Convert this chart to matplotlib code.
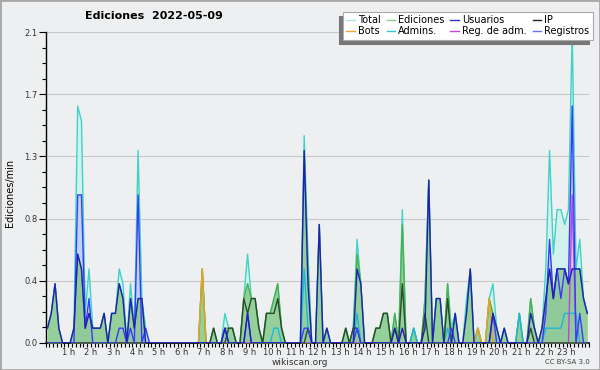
import numpy as np
import matplotlib
matplotlib.use("Agg")
import matplotlib.pyplot as plt
from matplotlib.patches import Rectangle

# 10-minute bins, values in edits per minute (one row per hour)
total = [
    0.1, 0.2, 0.4, 0.1, 0, 0,
    0, 0.1, 1.6, 1.5, 0.2, 0.5,
    0.1, 0.1, 0.1, 0.2, 0, 0.2,
    0.2, 0.5, 0.4, 0, 0.4, 0.1,
    1.3, 0.3, 0.1, 0, 0, 0,
    0, 0, 0, 0, 0, 0,
    0, 0, 0, 0, 0, 0.5,
    0, 0, 0.1, 0, 0, 0.2,
    0.1, 0.1, 0, 0, 0.3, 0.6,
    0.3, 0.3, 0.1, 0, 0.2, 0.2,
    0.3, 0.4, 0.1, 0, 0, 0,
    0, 0, 1.4, 0.6, 0, 0,
    0.8, 0, 0.1, 0, 0, 0,
    0, 0.1, 0, 0.1, 0.7, 0.4,
    0, 0, 0, 0.1, 0.1, 0.2,
    0.2, 0, 0.2, 0, 0.9, 0,
    0, 0.1, 0, 0, 0.3, 1.1,
    0, 0.3, 0.3, 0, 0.4, 0.1,
    0.2, 0, 0, 0.3, 0.5, 0,
    0.1, 0, 0, 0.3, 0.4, 0.1,
    0, 0.1, 0, 0, 0, 0.2,
    0, 0, 0.3, 0.1, 0, 0.1,
    0.5, 1.3, 0.6, 0.9, 0.9, 0.8,
    0.9, 2.1, 0.5, 0.7, 0.3, 0.2,
]
edits = [
    0.1, 0.2, 0.4, 0.1, 0, 0,
    0, 0.1, 0.6, 0.5, 0.1, 0.2,
    0.1, 0.1, 0.1, 0.2, 0, 0.2,
    0.2, 0.4, 0.3, 0, 0.3, 0.1,
    0.3, 0.3, 0, 0, 0, 0,
    0, 0, 0, 0, 0, 0,
    0, 0, 0, 0, 0, 0.5,
    0, 0, 0.1, 0, 0, 0.1,
    0.1, 0.1, 0, 0, 0.3, 0.4,
    0.3, 0.3, 0.1, 0, 0.2, 0.2,
    0.3, 0.4, 0.1, 0, 0, 0,
    0, 0, 1.3, 0.5, 0, 0,
    0.8, 0, 0.1, 0, 0, 0,
    0, 0.1, 0, 0.1, 0.6, 0.4,
    0, 0, 0, 0.1, 0.1, 0.2,
    0.2, 0, 0.2, 0, 0.8, 0,
    0, 0.1, 0, 0, 0.3, 1.1,
    0, 0.3, 0.3, 0, 0.4, 0,
    0.2, 0, 0, 0.2, 0.5, 0,
    0.1, 0, 0, 0.3, 0.2, 0.1,
    0, 0.1, 0, 0, 0, 0.2,
    0, 0, 0.3, 0.1, 0, 0.1,
    0.3, 0.5, 0.3, 0.5, 0.5, 0.5,
    0.4, 0.5, 0.5, 0.5, 0.3, 0.2,
]
users = [
    0.1, 0.2, 0.4, 0.1, 0, 0,
    0, 0.1, 0.6, 0.5, 0.1, 0.2,
    0.1, 0.1, 0.1, 0.2, 0, 0.2,
    0.2, 0.4, 0.3, 0, 0.3, 0.1,
    0.3, 0.3, 0, 0, 0, 0,
    0, 0, 0, 0, 0, 0,
    0, 0, 0, 0, 0, 0,
    0, 0, 0, 0, 0, 0.1,
    0, 0, 0, 0, 0, 0.2,
    0, 0, 0, 0, 0, 0,
    0, 0, 0, 0, 0, 0,
    0, 0, 1.3, 0.4, 0, 0,
    0.8, 0, 0.1, 0, 0, 0,
    0, 0, 0, 0, 0.5, 0.4,
    0, 0, 0, 0, 0, 0,
    0, 0, 0.1, 0, 0.1, 0,
    0, 0, 0, 0, 0.1, 1.1,
    0, 0.3, 0.3, 0, 0, 0,
    0.2, 0, 0, 0.2, 0.5, 0,
    0, 0, 0, 0, 0.2, 0.1,
    0, 0.1, 0, 0, 0, 0,
    0, 0, 0.2, 0.1, 0, 0.1,
    0.3, 0.5, 0.3, 0.5, 0.5, 0.5,
    0.4, 0.5, 0.5, 0.5, 0.3, 0.2,
]
ip = [0] * 44 + [
    0.1, 0, 0, 0, 0.1, 0.1,
    0, 0, 0.3, 0.2, 0.3, 0.3,
    0.1, 0, 0.2, 0.2, 0.2, 0.3,
    0.1, 0, 0, 0, 0, 0,
    0, 0.1, 0, 0, 0, 0,
    0, 0, 0, 0, 0, 0.1,
    0, 0.1, 0.1, 0, 0, 0,
    0, 0.1, 0.1, 0.2, 0.2, 0,
    0.1, 0, 0.4, 0, 0, 0,
    0, 0, 0.2, 0, 0, 0,
    0, 0, 0.3, 0, 0, 0,
    0, 0, 0, 0, 0, 0,
    0, 0, 0, 0, 0, 0,
    0, 0, 0, 0, 0, 0,
    0.1, 0, 0, 0, 0, 0,
    0, 0, 0, 0, 0, 0,
    0, 0, 0, 0,
]
bots = [0] * 41 + [0.5] + [0] * 72 + [0.1, 0, 0, 0.3] + [0] * 26
admins = [0] * 60 + [
    0.1, 0.1, 0, 0, 0, 0,
    0, 0, 0.5, 0.1, 0, 0,
    0, 0, 0, 0, 0, 0,
    0, 0, 0, 0, 0.2, 0,
    0, 0, 0, 0, 0, 0,
    0, 0, 0, 0, 0, 0,
    0, 0.1, 0, 0, 0, 0,
    0, 0, 0, 0, 0.1, 0,
    0, 0, 0, 0, 0, 0,
    0, 0, 0, 0, 0, 0,
    0, 0, 0, 0, 0, 0.2,
    0, 0, 0, 0, 0, 0,
    0.1, 0.1, 0.1, 0.1, 0.1, 0.2,
    0.2, 0.2, 0.2, 0, 0, 0,
]
adm_logs = [0] * 139 + [1.0, 0, 0, 0, 0]
logs = [
    0, 0, 0, 0, 0, 0,
    0, 0, 1.0, 1.0, 0.1, 0.3,
    0, 0, 0, 0, 0, 0,
    0, 0.1, 0.1, 0, 0.1, 0,
    1.0, 0, 0.1, 0, 0, 0,
] + [0] * 17 + [0.1] + [0] * 5 + [0.2] + [0] * 14 + [0.1, 0.1] + [0] * 12 + [0.1] + [0] * 24 + [
    0.1, 0, 0, 0, 0, 0,
    0, 0, 0, 0, 0, 0.2,
    0, 0, 0, 0, 0, 0,
    0, 0, 0, 0, 0, 0,
    0,
    0.2, 0.7, 0.3, 0.5, 0.3, 0.5,
    0.4, 1.6, 0, 0.2, 0, 0,
]

x = (np.arange(144) + 0.5) / 6
hours = list(range(1, 24))

bg = "#eeeff0"
fig = plt.figure(figsize=(6, 3.7), dpi=100, facecolor=bg)
ax = fig.add_axes([0.076, 0.073, 0.906, 0.8405])
ax.set_facecolor(bg)

ax.fill_between(x, total, color="#d3f1ec", lw=0, zorder=1)
ax.fill_between(x, logs, color="#b9cdee", alpha=0.8, lw=0, zorder=2)
ax.fill_between(x, edits, color="#86c886", alpha=0.8, lw=0, zorder=3)

ax.plot(x, total, color="#3fd3c6", lw=1, zorder=4)
ax.plot(x, edits, color="#4cb04c", lw=1, zorder=5)
ax.plot(x, admins, color="#1cb8d8", lw=1, zorder=6)
ax.plot(x, bots, color="#f0a020", lw=1, zorder=6)
ax.plot(x, adm_logs, color="#c040e0", lw=1, zorder=7)
ax.plot(x, ip, color="#2a4a2a", lw=1, zorder=7)
ax.plot(x, logs, color="#3a3aff", lw=1, zorder=8)
ax.plot(x, users, color="#2020b8", lw=1, zorder=8)

ax.set_xlim(0, 24)
ax.set_ylim(0, 2.1)
yt = np.linspace(0, 2.1, 6)
ax.set_yticks(yt)
ax.set_yticklabels(["%.1f" % v for v in yt], fontsize=6, color="#333")
ax.set_yticks(np.arange(0, 2.1001, 0.105), minor=True)
ax.set_xticks(hours)
ax.set_xticklabels(["%d h" % h for h in hours], fontsize=6, color="#333")
ax.set_xticks(np.arange(0, 24.01, 1 / 6), minor=True)
ax.tick_params(axis="x", which="both", length=3, width=0.8, pad=0.5)
ax.tick_params(axis="y", which="major", length=5, width=0.8, pad=1)
ax.tick_params(axis="y", which="minor", length=3, width=0.8)
ax.grid(axis="y", which="major", color="#c8c8c8", lw=0.8)
ax.set_axisbelow(True)
for s in ["top", "right"]:
    ax.spines[s].set_visible(False)
ax.spines["left"].set_linewidth(1)
ax.spines["bottom"].set_linewidth(1.2)

fig.text(0.142, 0.957, "Ediciones  2022-05-09", fontsize=8, fontweight="bold", va="center")
fig.text(0.017, 0.478, "Ediciones/min", fontsize=7, rotation=90, va="center", ha="center")
fig.text(0.5, 0.021, "wikiscan.org", fontsize=6.5, ha="center", va="center", color="#333")
fig.text(0.983, 0.021, "CC BY-SA 3.0", fontsize=5, ha="right", va="center", color="#444")

handles = {}
for lab, col in [("Total", "#a8e6e2"), ("Ediciones", "#88d088"), ("Usuarios", "#3030d0"),
                 ("IP", "#222222"), ("Bots", "#f5a030"), ("Admins.", "#30c8d8"),
                 ("Reg. de adm.", "#d040e0"), ("Registros", "#7070ff")]:
    handles[lab], = ax.plot([], [], color=col, lw=1)
order = ["Total", "Bots", "Ediciones", "Admins.", "Usuarios", "Reg. de adm.", "IP", "Registros"]
leg = fig.legend([handles[k] for k in order], order, loc="upper right",
                 bbox_to_anchor=(0.988, 0.968), borderaxespad=0, ncol=4, fontsize=7,
                 handlelength=0.9, handletextpad=0.3, columnspacing=0.6, labelspacing=0.1,
                 borderpad=0.35, fancybox=False, framealpha=1, edgecolor="#aaaaaa",
                 shadow={"ox": -3, "oy": -3, "color": "#777777", "alpha": 1})
leg.get_frame().set_linewidth(0.8)

fig.patches.append(Rectangle((0, 0), 1, 1, transform=fig.transFigure, fill=False,
                             edgecolor="#a8a8a8", lw=2))

fig.savefig("out.png", dpi=100, facecolor=bg)
